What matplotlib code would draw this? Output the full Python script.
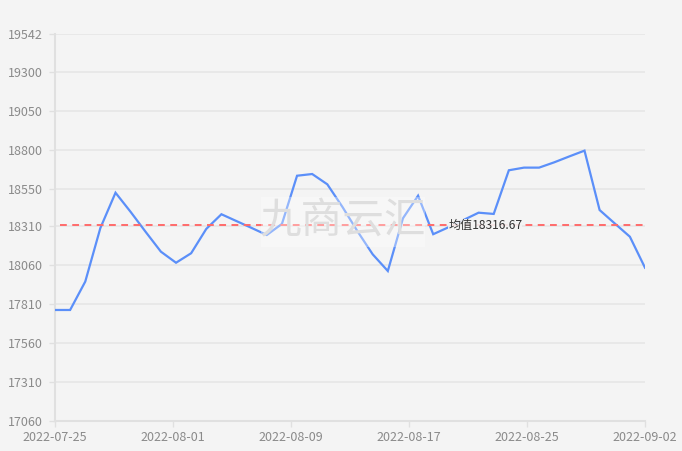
import matplotlib
matplotlib.use("Agg")
import matplotlib.pyplot as plt
import matplotlib.dates as mdates
import numpy as np
import pandas as pd

plt.rcParams['font.family'] = ['Noto Sans CJK SC', 'DejaVu Sans']

dates = [
    "2022-07-25", "2022-07-26", "2022-07-27", "2022-07-28", "2022-07-29",
    "2022-07-30", "2022-07-31", "2022-08-01", "2022-08-02", "2022-08-03",
    "2022-08-04", "2022-08-05", "2022-08-06", "2022-08-07", "2022-08-08",
    "2022-08-09", "2022-08-10", "2022-08-11", "2022-08-12", "2022-08-13",
    "2022-08-14", "2022-08-15", "2022-08-16", "2022-08-17", "2022-08-18",
    "2022-08-19", "2022-08-20", "2022-08-21", "2022-08-22", "2022-08-23",
    "2022-08-24", "2022-08-25", "2022-08-26", "2022-08-27", "2022-08-28",
    "2022-08-29", "2022-08-30", "2022-08-31", "2022-09-01", "2022-09-02",
]
prices = [
    17772, 17772, 17954, 18298, 18524, 18401, 18272, 18146, 18075, 18136,
    18292, 18386, 18342, 18298, 18253, 18324, 18633, 18644, 18578, 18433,
    18276, 18129, 18022, 18360, 18505, 18258, 18302, 18349, 18396, 18388,
    18668, 18685, 18685, 18719, 18757, 18794, 18413, 18327, 18242, 18043,
]
mean_value = 18316.67
mean_label = "均值18316.67"
y_ticks = [17060, 17310, 17560, 17810, 18060, 18310, 18550, 18800, 19050, 19300, 19542]
watermark = "九商云汇"

W, H = 682, 451
fig = plt.figure(figsize=(W / 100, H / 100), dpi=100)
fig.patch.set_facecolor('#f4f4f4')
ax = fig.add_axes([55 / W, (H - 421) / H, (645 - 55) / W, (421 - 34) / H])
ax.set_facecolor('#f4f4f4')

x = mdates.date2num(pd.to_datetime(dates))
ax.plot(x, prices, color='#5B8FF9', lw=1.6, zorder=3, solid_joinstyle='miter')

ax.plot([x[0] + 0.35, x[-1]], [mean_value, mean_value], color='#ff6b6b', lw=1.4,
        dashes=(3.5, 2.8), zorder=4)
ax.text(x[26], mean_value, mean_label, fontsize=8.7, color='#333333',
        va='center', ha='left', zorder=6,
        bbox=dict(facecolor='#f4f4f4', edgecolor='none', pad=0, alpha=0.9))

ax.set_xlim(x[0], x[-1])
ax.set_ylim(17060, 19542)
ax.set_yticks(y_ticks)
ax.set_yticklabels([str(v) for v in y_ticks])
xt = np.linspace(x[0], x[-1], 6)
ax.set_xticks(xt)
ax.xaxis.set_major_formatter(mdates.DateFormatter('%Y-%m-%d'))

ax.grid(axis='y', color='#e6e6e6', lw=1.2, zorder=0)
ax.grid(axis='x', visible=False)
for s in ['top', 'right']:
    ax.spines[s].set_visible(False)
for s in ['left', 'bottom']:
    ax.spines[s].set_color('#e0e0e0')
    ax.spines[s].set_linewidth(1.5)
ax.tick_params(axis='both', colors='#e0e0e0', labelcolor='#8a8a8a', labelsize=9,
               length=4, width=1)
ax.tick_params(axis='y', pad=5)
ax.tick_params(axis='x', pad=3)

# watermark: translucent light box over the plot with pale grey text
box = plt.Rectangle((261 / W, 1 - 247 / H), (425 - 261) / W, 50 / H,
                    transform=fig.transFigure, facecolor='#ffffff', alpha=0.35,
                    edgecolor='none', zorder=9)
fig.add_artist(box)
fig.text(343 / W, 1 - 222 / H, watermark, fontsize=30, color='#dedede',
         fontweight='medium', ha='center', va='center', zorder=10)

fig.savefig('out.png', dpi=100, facecolor=fig.get_facecolor())
